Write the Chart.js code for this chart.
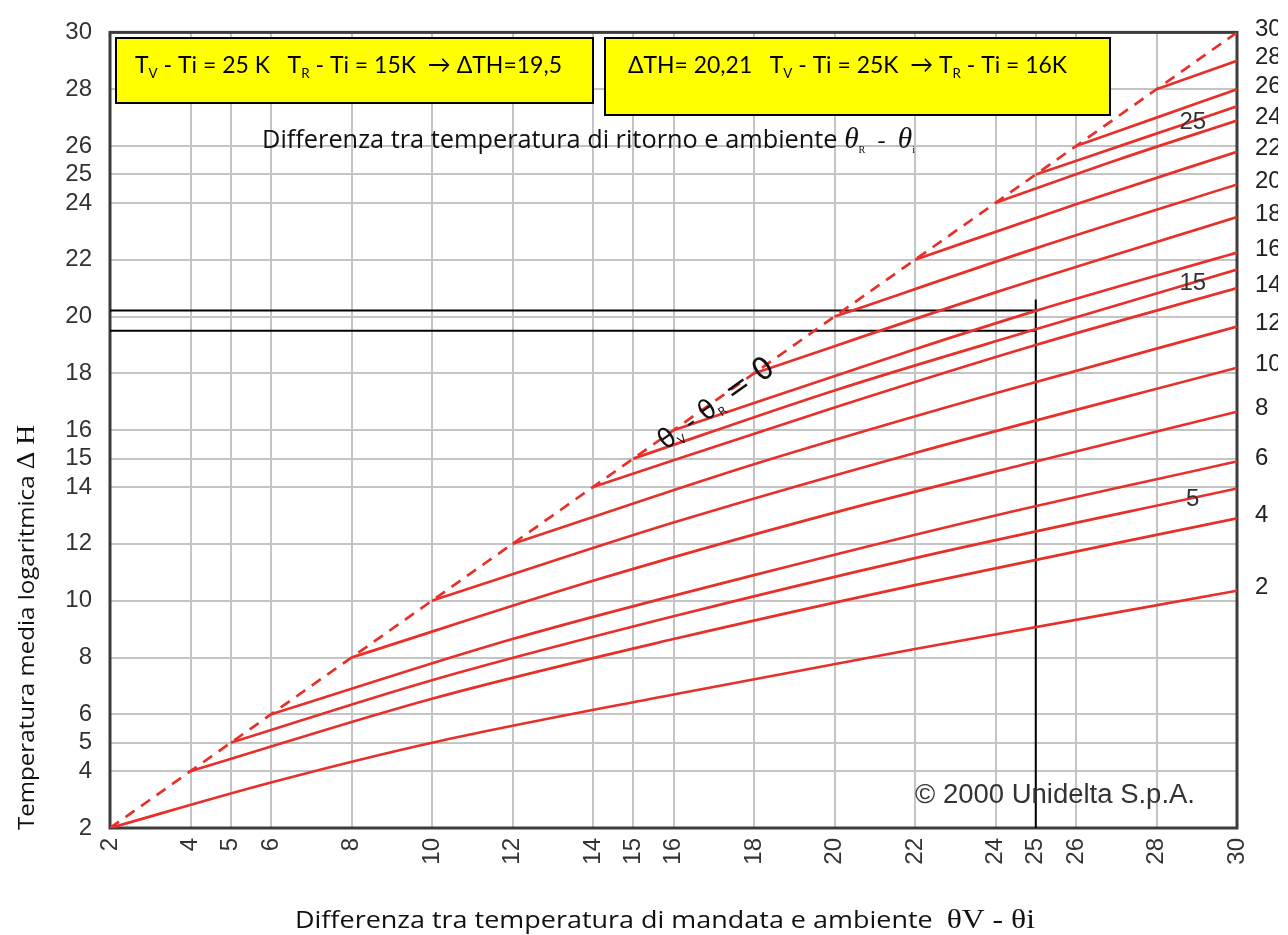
<!DOCTYPE html>
<html>
<head>
<meta charset="utf-8">
<script src="https://cdn.jsdelivr.net/npm/chart.js@4.4.1/dist/chart.umd.min.js"></script>
<style>
  html, body { margin: 0; padding: 0; background: #fff; }
  #wrap { width: 1288px; height: 935px; position: relative; }
</style>
</head>
<body>
<div id="wrap"><canvas id="chart" width="1288" height="935"></canvas></div>
<script>
// --- tick values (both axes) ---
const xTicks = [2, 4, 5, 6, 8, 10, 12, 14, 15, 16, 18, 20, 22, 24, 25, 26, 28, 30];
const yTicks = [2, 4, 5, 6, 8, 10, 12, 14, 15, 16, 18, 20, 22, 24, 25, 26, 28, 30];

// --- curves, one per return temperature: [θV - θi, ΔH] ---
const tr2  = [[2, 2], [6, 3.6], [10, 5.0], [16, 6.7], [22, 8.3], [30, 10.35]];
const tr4  = [[4, 4], [10, 6.55], [16, 8.65], [22, 10.55], [30, 12.9]];
const tr5  = [[5, 5], [10, 7.2], [16, 9.45], [22, 11.5], [30, 13.95]];
const tr6  = [[6, 6], [12, 8.65], [18, 10.9], [24, 13.0], [30, 14.9]];
const tr8  = [[8, 8], [14, 10.7], [20, 13.1], [25, 14.9], [30, 16.65]];
const tr10 = [[10, 10], [16, 12.75], [22, 15.2], [30, 18.2]];
const tr12 = [[12, 12], [18, 14.8], [24, 17.3], [30, 19.65]];
const tr14 = [[14, 14], [20, 16.8], [25, 19.0], [30, 21.0]];
const tr15 = [[15, 15], [20, 17.4], [25, 19.55], [30, 21.65]];
const tr16 = [[16, 16], [22, 18.85], [25, 20.2], [30, 22.25]];
const tr18 = [[18, 18], [24, 20.85], [30, 23.5]];
const tr20 = [[20, 20], [25, 22.4], [30, 24.65]];
const tr22 = [[22, 22], [26, 23.95], [30, 25.8]];
const tr24 = [[24, 24], [27, 25.5], [30, 26.9]];
const tr25 = [[25, 25], [27.5, 26.2], [30, 27.4]];
const tr26 = [[26, 26], [28, 27.0], [30, 28.0]];
const tr28 = [[28, 28], [30, 29.0]];
const diagonal = [[2, 2], [30, 30]];   // θV - θR = 0

const curveList = [tr2, tr4, tr5, tr6, tr8, tr10, tr12, tr14, tr15, tr16, tr18, tr20, tr22, tr24, tr25, tr26, tr28];

// labels at the right end of the curves
const rightLabels = ['30', '28', '26', '24', '22', '20', '18', '16', '14', '12', '10', '8', '6', '4', '2'];
const rightLabelCurves = [diagonal, tr28, tr26, tr24, tr22, tr20, tr18, tr16, tr14, tr12, tr10, tr8, tr6, tr4, tr2];
// labels written on some curves inside the plot
const innerLabels = ['25', '15', '5'];
const innerLabelCurves = [tr25, tr15, tr5];

// example reading (black lines)
const dthUpper = 20.21;
const dthLower = 19.5;
const tvExample = 25;
const upperLine = [[2, dthUpper], [tvExample, dthUpper]];
const lowerLine = [[2, dthLower], [tvExample, dthLower]];
const vertLine = [[tvExample, 2], [tvExample, 20.6]];

const RED = '#e8302a';
const toPts = arr => arr.map(p => ({ x: p[0], y: p[1] }));

const datasets = [];
curveList.forEach(c => {
    datasets.push({
        data: toPts(c), showLine: true, borderColor: RED, borderWidth: 2.7,
        pointRadius: 0, cubicInterpolationMode: 'monotone', fill: false
    });
});
datasets.push({
    data: toPts(diagonal), showLine: true, borderColor: RED, borderWidth: 2.7,
    borderDash: [11, 8], pointRadius: 0
});
[upperLine, lowerLine, vertLine].forEach(l => {
    datasets.push({ data: toPts(l), showLine: true, borderColor: '#000', borderWidth: 2, pointRadius: 0 });
});

// --- helpers for text with subscripts ---
function runsWidth(ctx, runs) {
    let w = 0;
    runs.forEach(r => { ctx.font = r.f; w += ctx.measureText(r.t).width; });
    return w;
}
function drawRuns(ctx, runs, x, y, width, angle) {
    const w = runsWidth(ctx, runs);
    ctx.save();
    ctx.translate(x, y);
    if (angle) ctx.rotate(angle);
    if (width) ctx.scale(width / w, 1);
    ctx.textAlign = 'left';
    ctx.textBaseline = 'alphabetic';
    let cx = 0;
    runs.forEach(r => {
        ctx.font = r.f;
        ctx.fillText(r.t, cx, r.dy || 0);
        cx += ctx.measureText(r.t).width;
    });
    ctx.restore();
}
function valueAt(curve, x) {
    for (let i = 1; i < curve.length; i++) {
        if (x <= curve[i][0]) {
            const a = curve[i - 1], b = curve[i];
            return a[1] + (b[1] - a[1]) * (x - a[0]) / (b[0] - a[0]);
        }
    }
    return curve[curve.length - 1][1];
}

const BOX_FONT = '"Lato", "Open Sans", sans-serif';
const SANS = '"Open Sans", sans-serif';
const SERIF = '"Liberation Serif", "DejaVu Serif", serif';
const ARIAL = '"Liberation Sans", Arial, sans-serif';

const framePlugin = {
    id: 'frame',
    beforeDatasetsDraw(chart) {
        const { ctx, chartArea: a } = chart;
        ctx.save();
        ctx.strokeStyle = '#3c3c3c';
        ctx.lineWidth = 3;
        ctx.strokeRect(a.left, a.top, a.right - a.left, a.bottom - a.top);
        ctx.restore();
    },
    afterDatasetsDraw(chart) {
        const { ctx, scales: { x, y } } = chart;
        ctx.save();

        // yellow boxes
        ctx.fillStyle = '#ffff00';
        ctx.strokeStyle = '#000';
        ctx.lineWidth = 2;
        ctx.fillRect(116, 38, 477, 65); ctx.strokeRect(116, 38, 477, 65);
        ctx.fillRect(605, 38, 505, 77); ctx.strokeRect(605, 38, 505, 77);
        ctx.fillStyle = '#000';
        const big = '24px ' + BOX_FONT, sub = '14px ' + BOX_FONT;
        drawRuns(ctx, [
            { t: 'T', f: big }, { t: 'V', f: sub, dy: 5 },
            { t: ' - Ti = 25 K   T', f: big }, { t: 'R', f: sub, dy: 5 },
            { t: ' - Ti = 15K  \u2192 \u0394TH=19,5', f: big }
        ], 135, 73, 427);
        drawRuns(ctx, [
            { t: '\u0394TH= 20,21   T', f: big }, { t: 'V', f: sub, dy: 5 },
            { t: ' - Ti = 25K  \u2192 T', f: big }, { t: 'R', f: sub, dy: 5 },
            { t: ' - Ti = 16K', f: big }
        ], 628, 73, 439);

        // inner title (return temperature)
        ctx.fillStyle = '#111';
        drawRuns(ctx, [
            { t: 'Differenza tra temperatura di ritorno e ambiente ', f: '25px ' + SANS },
            { t: '\u03B8', f: 'italic 29px ' + SERIF },
            { t: 'R', f: '10px ' + SERIF, dy: 5 },
            { t: '  -  ', f: '24px ' + SERIF },
            { t: '\u03B8', f: 'italic 29px ' + SERIF },
            { t: 'i', f: '10px ' + SERIF, dy: 5 }
        ], 262, 148, 653);

        // θV - θR = 0 along the diagonal
        const ang = Math.atan2(y.getPixelForValue(16) - y.getPixelForValue(15), x.getPixelForValue(16) - x.getPixelForValue(15));
        const dv = '"DejaVu Sans", sans-serif';
        drawRuns(ctx, [
            { t: '\u03B8', f: '27px ' + dv }, { t: 'V', f: '12px ' + dv, dy: 5 },
            { t: ' - \u03B8', f: '27px ' + dv }, { t: 'R', f: '12px ' + dv, dy: 5 },
            { t: ' = 0', f: '31px ' + dv }
        ], x.getPixelForValue(15.75) + 2, y.getPixelForValue(15.75) + 13, 136, ang);

        // labels at the right end of curves
        ctx.fillStyle = '#222';
        ctx.font = '24px ' + ARIAL;
        ctx.textBaseline = 'middle';
        ctx.textAlign = 'left';
        rightLabels.forEach((lab, i) => {
            const c = rightLabelCurves[i];
            ctx.fillText(lab, 1255, y.getPixelForValue(c[c.length - 1][1]) - 3);
        });
        // labels on curves
        ctx.fillStyle = '#333';
        ctx.textAlign = 'center';
        innerLabels.forEach((lab, i) => {
            ctx.fillText(lab, x.getPixelForValue(28.9), y.getPixelForValue(valueAt(innerLabelCurves[i], 28.9)) + 1);
        });
        // right edge of the picture is cut off
        ctx.fillStyle = '#fff';
        ctx.fillRect(1278, 0, 10, 380);

        // copyright
        ctx.fillStyle = '#333';
        ctx.textAlign = 'left';
        ctx.textBaseline = 'alphabetic';
        ctx.font = '27px ' + ARIAL;
        drawRuns(ctx, [{ t: '\u00A9 2000 Unidelta S.p.A.', f: '27px ' + ARIAL }], 915, 803, 280);

        // axis titles
        ctx.fillStyle = '#111';
        drawRuns(ctx, [
            { t: 'Differenza tra temperatura di mandata e ambiente  ', f: '23px ' + SANS },
            { t: '\u03B8V - \u03B8i', f: '27px ' + SERIF }
        ], 295, 928, 740);
        drawRuns(ctx, [
            { t: 'Temperatura media logaritmica ', f: '22px ' + SANS },
            { t: '\u0394 H', f: '25px ' + SERIF }
        ], 34, 830, 405, -Math.PI / 2);

        ctx.restore();
    }
};

const tickFont = { family: 'Liberation Sans', size: 24 };

new Chart(document.getElementById('chart'), {
    type: 'scatter',
    data: { datasets: datasets },
    options: {
        responsive: false,
        animation: false,
        layout: { padding: { left: 0, right: 51, top: 30, bottom: 0 } },
        plugins: { legend: { display: false }, tooltip: { enabled: false } },
        scales: {
            x: {
                type: 'linear', min: 2, max: 30,
                afterBuildTicks: s => { s.ticks = xTicks.map(v => ({ value: v })); },
                afterFit: s => { s.height = 107; },
                grid: { color: '#c4c4c4', lineWidth: 2, drawTicks: false },
                border: { display: false },
                ticks: { autoSkip: false, maxRotation: 90, minRotation: 90, padding: 10, color: '#333', font: tickFont }
            },
            y: {
                type: 'linear', min: 2, max: 30,
                afterBuildTicks: s => { s.ticks = yTicks.map(v => ({ value: v })); },
                afterFit: s => { s.width = 110; },
                grid: { color: '#c4c4c4', lineWidth: 2, drawTicks: false },
                border: { display: false },
                ticks: { autoSkip: false, padding: 18, color: '#333', font: tickFont }
            }
        }
    },
    plugins: [framePlugin]
});
</script>
</body>
</html>
